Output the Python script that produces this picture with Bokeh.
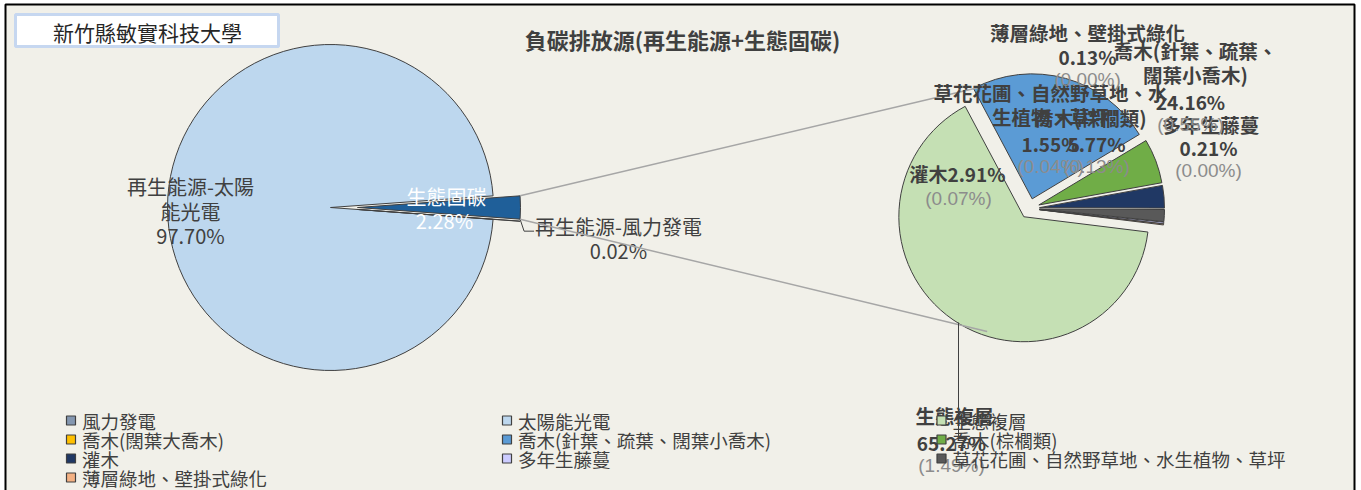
import numpy as np
from bokeh.plotting import figure
from bokeh.models import Range1d, ColumnDataSource
from bokeh.core.properties import value
from bokeh.embed import file_html
from bokeh.resources import INLINE

W, H = 1361, 490
CJK = "Noto Sans CJK TC"
LAT = "Liberation Sans"

# ---------------- data ----------------
school = "新竹縣敏實科技大學"
chart_title = "負碳排放源(再生能源+生態固碳)"

# primary pie (share of total, %)
primary_names = ["再生能源-太陽能光電", "生態固碳", "再生能源-風力發電"]
primary_values = [97.70, 2.28, 0.02]
primary_colors = ["#BDD7EE", "#1F5F99", "#8497B0"]

# secondary pie (breakdown of 生態固碳)
secondary_names = ["喬木(針葉、疏葉、闊葉小喬木)", "喬木(棕櫚類)", "灌木",
                   "草花花圃、自然野草地、水生植物、草坪", "多年生藤蔓",
                   "薄層綠地、壁掛式綠化", "喬木(闊葉大喬木)", "生態複層"]
secondary_share = [24.16, 5.77, 2.91, 1.55, 0.21, 0.13, 0.00, 65.27]
secondary_total = [0.55, 0.13, 0.07, 0.04, 0.00, 0.00, 0.00, 1.49]
secondary_colors = ["#5B9BD5", "#70AD47", "#203864", "#595959",
                    "#CCCCFF", "#F4B183", "#FFC000", "#C5E0B4"]

# wrapped label lines for secondary slices (as shown in chart)
secondary_label_lines = [["喬木(針葉、疏葉、", "闊葉小喬木)"], ["喬木(棕櫚類)"], [],
                         ["草花花圃、自然野草地、水", "生植物、草坪"], ["多年生藤蔓"],
                         ["薄層綠地、壁掛式綠化"], None, ["生態複層"]]

legend_names = ["風力發電", "太陽能光電", "生態複層",
                "喬木(闊葉大喬木)", "喬木(針葉、疏葉、闊葉小喬木)", "喬木(棕櫚類)",
                "灌木", "多年生藤蔓", "草花花圃、自然野草地、水生植物、草坪",
                "薄層綠地、壁掛式綠化"]
legend_colors = ["#8497B0", "#BDD7EE", "#C5E0B4",
                 "#FFC000", "#5B9BD5", "#70AD47",
                 "#203864", "#CCCCFF", "#595959",
                 "#F4B183"]

# ---------------- layout ----------------
def Y(y):
    return H - y

p = figure(width=W, height=H, output_backend="svg", toolbar_location=None,
           x_range=Range1d(0, W), y_range=Range1d(0, H),
           x_axis_type=None, y_axis_type=None, min_border=0)
p.outline_line_color = None
p.background_fill_color = "white"
p.border_fill_color = "white"
p.xgrid.visible = False
p.ygrid.visible = False

BG = "#F1F0E9"
p.quad(left=[5], right=[1354], top=[Y(4)], bottom=[Y(500)],
       fill_color=BG, line_color="black", line_width=2)

# title box
p.quad(left=[15], right=[278], top=[Y(14)], bottom=[Y(46)],
       fill_color="white", line_color="#C6D7F0", line_width=3)
p.text(x=[147], y=[Y(31)], text=[school], text_font=value(CJK),
       text_font_size="21px", text_color="#262626",
       text_align="center", text_baseline="middle")

p.text(x=[682], y=[Y(38)], text=[chart_title], text_font=value(CJK),
       text_font_size="22px", text_font_style="bold", text_color="#404040",
       text_align="center", text_baseline="middle")

OUT = "#404040"

# ---------------- primary pie ----------------
c1x, c1y, r1 = 330.0, Y(207), 163.0
pv = np.array(primary_values)
spans = pv / pv.sum() * 2 * np.pi
# carbon slice centred on 0 rad, wind directly clockwise of it, solar the rest
carb_s, carb_e = -spans[1] / 2, spans[1] / 2
wind_s, wind_e = carb_s - spans[2], carb_s
sol_s, sol_e = carb_e, carb_e + spans[0]
explode1 = 27.0
starts = [sol_s, carb_s, wind_s]
ends = [sol_e, carb_e, wind_e]
ex = [0.0, explode1, explode1]
mids = [(a + b) / 2 for a, b in zip(starts, ends)]
src1 = ColumnDataSource(dict(
    x=[c1x + e * np.cos(m) for e, m in zip(ex, mids)],
    y=[c1y + e * np.sin(m) for e, m in zip(ex, mids)],
    s=starts, e=ends, c=primary_colors))
p.wedge(x="x", y="y", radius=r1, start_angle="s", end_angle="e",
        direction="anticlock", fill_color="c", line_color=OUT, line_width=1,
        source=src1)

# primary labels
p.text(x=[190, 190, 190], y=[Y(186), Y(211), Y(235)],
       text=["再生能源-太陽", "能光電", f"{primary_values[0]:.2f}%"],
       text_font=value(CJK), text_font_size="20px", text_color="#404040",
       text_align="center", text_baseline="middle")
p.text(x=[446, 444], y=[Y(196), Y(220)],
       text=[primary_names[1], f"{primary_values[1]:.2f}%"],
       text_font=value(CJK), text_font_size="20px", text_color="white",
       text_align="center", text_baseline="middle")
p.text(x=[618, 618], y=[Y(226), Y(250)],
       text=[primary_names[2], f"{primary_values[2]:.2f}%"],
       text_font=value(CJK), text_font_size="20px", text_color="#404040",
       text_align="center", text_baseline="middle")

# corners of the exploded carbon slice
cx_c = c1x + explode1 * np.cos(0.0)
top_corner = (cx_c + r1 * np.cos(carb_e), c1y + r1 * np.sin(carb_e))
bot_corner = (cx_c + r1 * np.cos(carb_s), c1y + r1 * np.sin(carb_s))
# wind leader line
p.line(x=[bot_corner[0], bot_corner[0] + 4, bot_corner[0] + 14],
       y=[bot_corner[1], bot_corner[1] - 12, bot_corner[1] - 12],
       line_color="#404040", line_width=1)

# ---------------- secondary pie ----------------
c2x, c2y, r2 = 1029.0, Y(208), 125.0
explode2 = 10.0
sv = np.array(secondary_share)
sspan = sv / sv.sum() * 2 * np.pi
start0 = np.deg2rad(118.0)
ends2 = start0 - np.concatenate([[0], np.cumsum(sspan)[:-1]])
starts2 = ends2 - sspan
mids2 = (starts2 + ends2) / 2
keep = sv > 0
src2 = ColumnDataSource(dict(
    x=(c2x + explode2 * np.cos(mids2))[keep], y=(c2y + explode2 * np.sin(mids2))[keep],
    s=starts2[keep], e=ends2[keep], c=list(np.array(secondary_colors)[keep])))
p.wedge(x="x", y="y", radius=r2, start_angle="s", end_angle="e",
        direction="anticlock", fill_color="c", line_color=OUT, line_width=1,
        source=src2)

# connector lines
ang_up, ang_dn = np.deg2rad(108.5), np.deg2rad(-109.0)
rr = r2 + 5
p.line(x=[top_corner[0], c2x + rr * np.cos(ang_up)],
       y=[top_corner[1], c2y + rr * np.sin(ang_up)],
       line_color="#A6A6A6", line_width=1.5)
p.line(x=[bot_corner[0], c2x + rr * np.cos(ang_dn)],
       y=[bot_corner[1], c2y + rr * np.sin(ang_dn)],
       line_color="#A6A6A6", line_width=1.5)
# leader for 生態複層
p.line(x=[958, 958], y=[Y(322), Y(437)], line_color="#404040", line_width=1)

# secondary labels: (center x, first line y) for each slice
label_anchor = {0: (1195, 50), 1: (1090, 117), 2: (957, 173), 3: (1050, 92),
                4: (1210, 124), 5: (1087, 32), 7: (954, 415)}
pct_anchor = {0: (1190, 101), 1: (1096, 143), 3: (1050, 143), 4: (1208, 147),
              5: (1087, 56), 7: (951, 442)}
LH = 24
nx, ny, nt = [], [], []
bx, by, bt = [], [], []
gx, gy, gt = [], [], []
for i, lines in enumerate(secondary_label_lines):
    if lines is None:
        continue
    ax, ay = label_anchor[i]
    if i == 2:
        bx.append(ax); by.append(Y(ay)); bt.append(f"{secondary_names[i]}{secondary_share[i]:.2f}%")
        gx.append(ax + 1); gy.append(Y(ay + 25)); gt.append(f"({secondary_total[i]:.2f}%)")
        continue
    for k, ln in enumerate(lines):
        nx.append(ax); ny.append(Y(ay + k * LH)); nt.append(ln)
    px, py = pct_anchor[i]
    bx.append(px); by.append(Y(py)); bt.append(f"{secondary_share[i]:.2f}%")
    gx.append(px); gy.append(Y(py + 23)); gt.append(f"({secondary_total[i]:.2f}%)")

p.text(x=nx, y=ny, text=nt, text_font=value(CJK), text_font_size="19.5px",
       text_font_style="bold", text_color="#404040",
       text_align="center", text_baseline="middle")
p.text(x=bx, y=by, text=bt, text_font=value(CJK), text_font_size="19px",
       text_font_style="bold", text_color="#404040",
       text_align="center", text_baseline="middle")
p.text(x=gx, y=gy, text=gt, text_font=value(LAT), text_font_size="19px",
       text_color="#8C8C8C", text_align="center", text_baseline="middle")

# ---------------- legend ----------------
col_x = [70.5, 506.5, 941.0]
row_y0, row_dy = 420.0, 19.0
lx = [col_x[i % 3] for i in range(len(legend_names))]
ly = [Y(row_y0 + row_dy * (i // 3)) for i in range(len(legend_names))]
p.rect(x=lx, y=ly, width=9, height=9, fill_color=legend_colors,
       line_color="#404040", line_width=1.2)
p.text(x=[v + 11 for v in lx], y=ly, text=legend_names, text_font=value(CJK),
       text_font_size="18.5px", text_color="#404040",
       text_align="left", text_baseline="middle")

open("out.html", "w").write(file_html(p, INLINE))
